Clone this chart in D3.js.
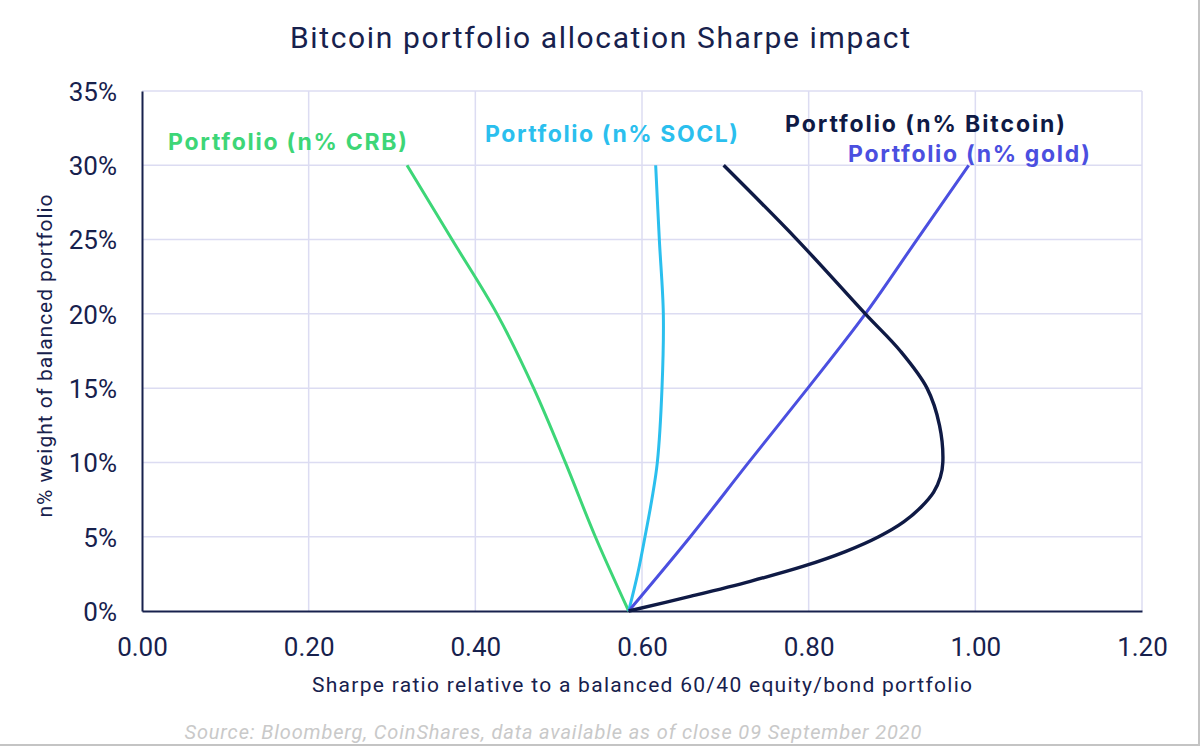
<!DOCTYPE html>
<html lang="en">
<head>
  <meta charset="utf-8">
  <script src="https://d3js.org/d3.v7.min.js"></script>
  <style>
    html, body { margin: 0; padding: 0; background: #fff; }
    svg { display: block; }
  </style>
</head>
<body>
  <div id="chart"></div>

  <script>
    "use strict"

    // n% weight of the balanced portfolio (y) and the Sharpe ratio (x)
    var pesosBitcoin = [0, 1, 2, 3, 4, 5, 6, 7, 8, 9, 10, 12.5, 15, 17.5, 20, 25, 30];
    var sharpeBitcoin = [0.584, 0.659, 0.730, 0.793, 0.844, 0.884, 0.914, 0.935, 0.950, 0.958, 0.961, 0.957, 0.942, 0.910, 0.868, 0.786, 0.698];

    var pesosGold = [0, 5, 10, 15, 20, 25, 30];
    var sharpeGold = [0.584, 0.658, 0.728, 0.799, 0.868, 0.930, 0.992];

    var pesosSocl = [0, 2.5, 5, 7.5, 10, 15, 20, 25, 30];
    var sharpeSocl = [0.584, 0.5948, 0.6036, 0.6118, 0.6184, 0.624, 0.6256, 0.6208, 0.6164];

    var pesosCrb = [0, 5, 10, 15, 20, 25, 30];
    var sharpeCrb = [0.584, 0.544, 0.508, 0.470, 0.426, 0.372, 0.318];

    var ticksX = [0, 0.2, 0.4, 0.6, 0.8, 1.0, 1.2];
    var ticksY = [0, 5, 10, 15, 20, 25, 30, 35];

    var series = [
      { nome: "Portfolio (n% CRB)", pesos: pesosCrb, sharpe: sharpeCrb, cor: "#3dd677", lx: 168, ly: 150, lw: 239 },
      { nome: "Portfolio (n% SOCL)", pesos: pesosSocl, sharpe: sharpeSocl, cor: "#2bbfee", lx: 485, ly: 142, lw: 253 },
      { nome: "Portfolio (n% gold)", pesos: pesosGold, sharpe: sharpeGold, cor: "#4b4fe0", lx: 848, ly: 162, lw: 242 },
      { nome: "Portfolio (n% Bitcoin)", pesos: pesosBitcoin, sharpe: sharpeBitcoin, cor: "#0f1a45", lx: 785, ly: 132, lw: 280 }
    ];

    var corTexto = "#17214d";
    var corGrade = "#dcdcf2";

    var larguraSVG = 1200, alturaSVG = 746;
    var margin = { top: 91, right: 58, bottom: 135, left: 142 },
        larguraVis = larguraSVG - margin.left - margin.right,
        alturaVis = alturaSVG - margin.top - margin.bottom;

    var svg = d3.select("#chart")
      .append("svg")
        .attr("width", larguraSVG)
        .attr("height", alturaSVG);

    var grafico = svg.append("g")
        .attr("transform", "translate(" + margin.left + "," + margin.top + ")");

    var x = d3.scaleLinear().domain([0, 1.2]).range([0, larguraVis]);
    var y = d3.scaleLinear().domain([0, 35]).range([alturaVis, 0]);

    // grade
    grafico.append("g")
      .selectAll("line")
      .data(ticksX.slice(1))
      .enter().append("line")
        .attr("x1", d => x(d)).attr("x2", d => x(d))
        .attr("y1", y(35)).attr("y2", y(0))
        .attr("stroke", corGrade)
        .attr("stroke-width", 1.5);

    grafico.append("g")
      .selectAll("line")
      .data(ticksY.slice(1))
      .enter().append("line")
        .attr("x1", 0).attr("x2", larguraVis)
        .attr("y1", d => y(d)).attr("y2", d => y(d))
        .attr("stroke", corGrade)
        .attr("stroke-width", 1.5);

    // eixos
    var eixoX = grafico.append("g")
      .attr("transform", "translate(0," + alturaVis + ")")
      .call(d3.axisBottom(x).tickValues(ticksX).tickFormat(d3.format(".2f")).tickSize(0).tickPadding(27));

    var eixoY = grafico.append("g")
      .call(d3.axisLeft(y).tickValues(ticksY).tickFormat(d => d + "%").tickSize(0).tickPadding(25));

    [eixoX, eixoY].forEach(function (e) {
      e.select(".domain").attr("stroke", corTexto).attr("stroke-width", 2);
      e.selectAll("text")
        .attr("fill", corTexto)
        .style("font-family", "Roboto, sans-serif")
        .style("font-size", "26px");
    });
    eixoX.selectAll("text").attr("dy", "0.71em");
    eixoY.selectAll("text").attr("dy", "0.36em");

    // linhas
    var linha = d3.line()
      .x(d => x(d[1]))
      .y(d => y(d[0]))
      .curve(d3.curveCatmullRom.alpha(0.5));

    grafico.append("g")
      .selectAll("path")
      .data(series)
      .enter().append("path")
        .attr("d", s => linha(d3.zip(s.pesos, s.sharpe)))
        .attr("fill", "none")
        .attr("stroke", s => s.cor)
        .attr("stroke-width", s => s.nome.indexOf("Bitcoin") >= 0 ? 3.4 : 3)
        .attr("stroke-linejoin", "round");

    // rotulos das series
    svg.append("g")
      .selectAll("text")
      .data(series)
      .enter().append("text")
        .attr("x", s => s.lx)
        .attr("y", s => s.ly)
        .attr("textLength", s => s.lw)
        .text(s => s.nome)
        .attr("fill", s => s.cor)
        .style("font-family", "Inter, sans-serif")
        .style("font-weight", "bold")
        .style("font-size", "23px");

    // titulos
    svg.append("text")
      .attr("x", 600).attr("y", 48)
      .attr("text-anchor", "middle")
      .attr("textLength", 620)
      .text("Bitcoin portfolio allocation Sharpe impact")
      .attr("fill", corTexto)
      .style("font-family", "Roboto, sans-serif")
      .style("font-size", "30px");

    svg.append("text")
      .attr("x", 642).attr("y", 692)
      .attr("text-anchor", "middle")
      .attr("textLength", 660)
      .text("Sharpe ratio relative to a balanced 60/40 equity/bond portfolio")
      .attr("fill", corTexto)
      .style("font-family", "Roboto, sans-serif")
      .style("font-size", "21px");

    svg.append("text")
      .attr("transform", "translate(52,356) rotate(-90)")
      .attr("text-anchor", "middle")
      .attr("textLength", 323)
      .text("n% weight of balanced portfolio")
      .attr("fill", corTexto)
      .style("font-family", "Roboto, sans-serif")
      .style("font-size", "21px");

    svg.append("text")
      .attr("x", 553).attr("y", 739)
      .attr("text-anchor", "middle")
      .attr("textLength", 737)
      .text("Source: Bloomberg, CoinShares, data available as of close 09 September 2020")
      .attr("fill", "#c9c9c9")
      .style("font-family", "Roboto, sans-serif")
      .style("font-style", "italic")
      .style("font-size", "20px");

    // moldura cinza a direita e embaixo
    svg.append("line")
      .attr("x1", 0).attr("x2", larguraSVG)
      .attr("y1", alturaSVG - 1).attr("y2", alturaSVG - 1)
      .attr("stroke", "#c4c4c4").attr("stroke-width", 2);
    svg.append("line")
      .attr("x1", larguraSVG - 1).attr("x2", larguraSVG - 1)
      .attr("y1", 0).attr("y2", alturaSVG)
      .attr("stroke", "#c4c4c4").attr("stroke-width", 2);
  </script>
</body>
</html>
